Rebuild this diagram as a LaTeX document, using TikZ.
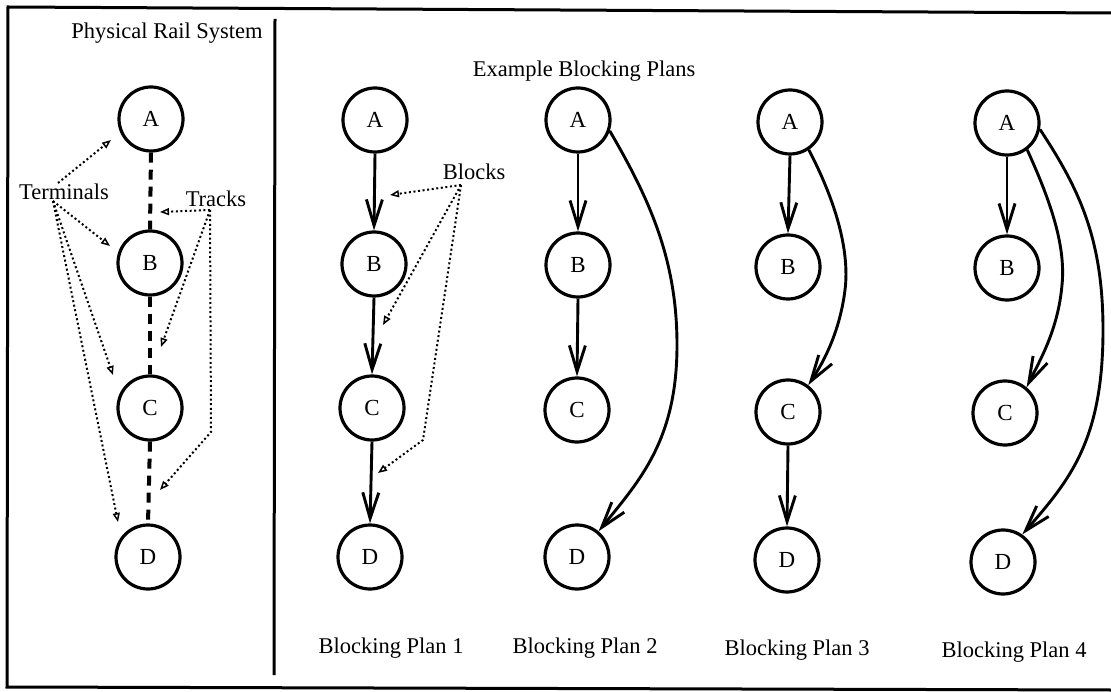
\documentclass[tikz,border=0pt]{standalone}
\usepackage{fontspec}
\setmainfont{Liberation Serif}
\usetikzlibrary{arrows.meta}
\begin{document}
\begin{tikzpicture}[x=1pt,y=-1pt,
  stn/.style={circle,draw,line width=3.2pt,minimum size=64pt,inner sep=0pt,
    font=\fontsize{23}{23}\selectfont},
  lbl/.style={anchor=base,inner sep=0pt,font=\fontsize{22.5}{22.5}\selectfont},
  track/.style={line width=4pt,dash pattern=on 10pt off 7pt},
  blk/.style={line width=2.9pt,
    -{Straight Barb[length=26pt,width=16pt,line width=2.9pt]}},
  pointer/.style={line width=2pt,dash pattern=on 2pt off 2.6pt,
    -{Triangle[open,length=9pt,width=7pt,line width=1.5pt]}},
  frame/.style={line width=3pt}
]
\useasboundingbox (0,0) rectangle (1111,692);

% outer frame and panel divider
\draw[frame] (1111,13) -- (8,7) -- (7,687) -- (1111,690);
\draw[frame] (275,19) -- (274,675);

% ---------- physical rail system ----------
\node[lbl] (ttlrail) at (167,39) {Physical Rail System};
\node[stn] (LA) at (151,119) {A};
\node[stn] (LB) at (150,263) {B};
\node[stn] (LC) at (150,408) {C};
\node[stn] (LD) at (148,557) {D};
\draw[track] (LA.south) -- (LB.north);
\draw[track] (LB.south) -- (LC.north);
\draw[track] (LC.south) -- (LD.north);

\node[lbl] (terms) at (64,200) {Terminals};
\node[lbl] (tracks) at (216,207) {Tracks};

\coordinate (tmTop) at (58,183);
\coordinate (tmBot) at (53,201);
\coordinate (tmA) at (111,140);
\coordinate (tmB) at (110,246);
\coordinate (tmC) at (113,375);
\coordinate (tmD) at (118,522);
\draw[pointer] (tmTop) -- (tmA);
\draw[pointer] (tmBot) -- (tmB);
\draw[pointer] (tmBot) -- (tmC);
\draw[pointer] (tmBot) -- (tmD);

\coordinate (trS) at (210,210);
\coordinate (trAB) at (160,212);
\coordinate (trBC) at (161,347);
\coordinate (trBend) at (211,432);
\coordinate (trCD) at (160,490);
\draw[pointer] (trS) -- (trAB);
\draw[pointer] (trS) -- (trBC);
\draw[pointer] (trS) -- (trBend) -- (trCD);

% ---------- example blocking plans ----------
\node[lbl] (ttlplans) at (584,77) {Example Blocking Plans};

% plan 1
\node[stn] (A1) at (375,120) {A};
\node[stn] (B1) at (374,264) {B};
\node[stn] (C1) at (372,408) {C};
\node[stn] (D1) at (370,557) {D};
\draw[blk] (A1.south) -- (B1.north);
\draw[blk] (B1.south) -- (C1.north);
\draw[blk] (C1.south) -- (D1.north);
\node[lbl] (blocks) at (474,180) {Blocks};
\coordinate (bkS) at (461,185);
\coordinate (bkAB) at (390,195);
\coordinate (bkBC) at (383,325);
\coordinate (bkBend) at (423,440);
\coordinate (bkCD) at (378,473);
\draw[pointer] (bkS) -- (bkAB);
\draw[pointer] (bkS) -- (bkBC);
\draw[pointer] (bkS) -- (bkBend) -- (bkCD);
\node[lbl] (cap1) at (391,653) {Blocking Plan 1};

% plan 2
\node[stn] (A2) at (578,120) {A};
\node[stn] (B2) at (578,265) {B};
\node[stn] (C2) at (577,410) {C};
\node[stn] (D2) at (577,557) {D};
\draw[blk] (A2.south) -- (B2.north);
\draw[blk] (B2.south) -- (C2.north);
\draw[blk] (A2.-19) .. controls (650,200) and (677,260) .. (677,345)
  .. controls (677,440) and (640,480) .. (D2.50);
\node[lbl] (cap2) at (585,653) {Blocking Plan 2};

% plan 3
\node[stn] (A3) at (790,122) {A};
\node[stn] (B3) at (788,267) {B};
\node[stn] (C3) at (788,412) {C};
\node[stn] (D3) at (787,560) {D};
\draw[blk] (A3.south) -- (B3.north);
\draw[blk] (A3.-56) .. controls (835,200) and (850,250) .. (845,290)
  .. controls (840,330) and (825,360) .. (C3.53);
\draw[blk] (C3.south) -- (D3.north);
\node[lbl] (cap3) at (797,655) {Blocking Plan 3};

% plan 4
\node[stn] (A4) at (1007,123) {A};
\node[stn] (B4) at (1007,268) {B};
\node[stn] (C4) at (1005,413) {C};
\node[stn] (D4) at (1003,562) {D};
\draw[blk] (A4.south) -- (B4.north);
\draw[blk] (A4.-53) .. controls (1050,200) and (1066,245) .. (1062,285)
  .. controls (1058,330) and (1040,360) .. (C4.50);
\draw[blk] (A4.-11) .. controls (1080,190) and (1103,240) .. (1103,330)
  .. controls (1103,440) and (1070,480) .. (D4.55);
\node[lbl] (cap4) at (1014,657) {Blocking Plan 4};
\end{tikzpicture}
\end{document}
